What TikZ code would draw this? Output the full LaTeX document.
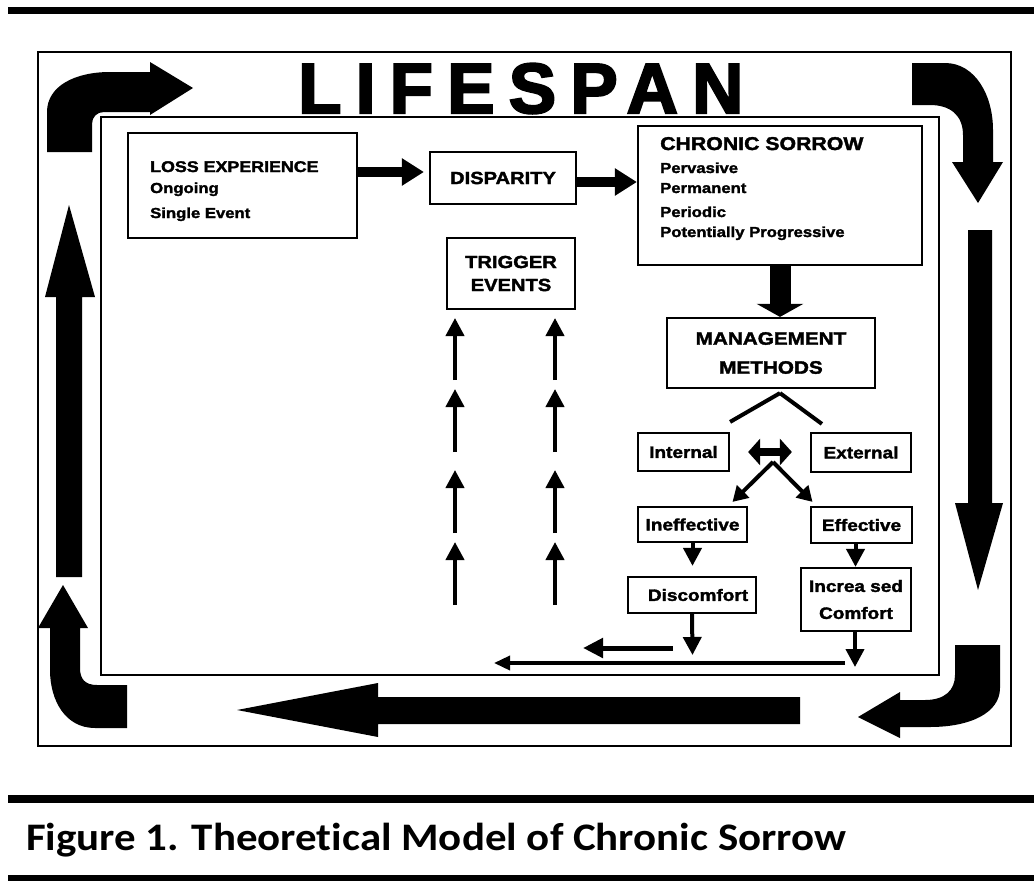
\documentclass[tikz,border=0pt]{standalone}
\usepackage{fontspec}
\setmainfont{Liberation Sans}
\newfontfamily\bx{Liberation Sans}[FakeStretch=1.15,FakeBold=2]
\newfontfamily\lsfont{Liberation Sans}[LetterSpace=20,FakeBold=3]
\newfontfamily\capfont{Carlito}[FakeStretch=1.1,Ligatures=NoCommon]
\usetikzlibrary{arrows.meta,calc}
\begin{document}
\begin{tikzpicture}[x=1pt,y=-1pt,
  frame/.style={draw, line width=2.6pt},
  rule/.style={line width=#1, line cap=butt},
  box/.style={draw, line width=2.2pt, inner sep=0pt, align=center,
    font=\bx\bfseries\fontsize{16.5}{26}\selectfont},
  txt/.style={anchor=base west, inner sep=0pt, font=\bx\bfseries\fontsize{14.5}{17}\selectfont},
  heavyarr/.style={line width=10pt, -{Triangle[width=26pt,length=22pt]}},
  thinarr/.style={line width=4pt, -{Triangle[width=18pt,length=18pt]}},
  forkarr/.style={line width=4pt, -{Triangle[width=17pt,length=15pt]}},
  dblarr/.style={line width=8pt, {Triangle[width=26pt,length=12pt]}-{Triangle[width=26pt,length=12pt]}},
  bigshape/.style={fill=black}
]
\useasboundingbox (0,0) rectangle (1034,881);

% rules
\draw[rule=7.5pt] (8,10.5) -- (1034,10.5);
\draw[rule=8pt] (8,799) -- (1034,799);
\draw[rule=7pt] (8,878.5) -- (1034,878.5);

% caption
\node[anchor=base west, inner sep=0pt, font=\capfont\bfseries\fontsize{39}{40}\selectfont] (caption) at (26,850) {Figure 1. Theoretical Model of Chronic Sorrow};

% frames
\draw[frame] (38,52) rectangle (1011,746);
\draw[frame] (101,117) rectangle (939,675);

% LIFESPAN
\node[anchor=base west, inner sep=0pt, font=\lsfont\bfseries\fontsize{71}{72}\selectfont] (lifespan) at (298,113) {LIFESPAN};

% big frame arrows
% top-left hook
\fill[bigshape] (47,152) -- (47,112) .. controls (47,86) and (75,72) .. (110,72) -- (150,72) -- (150,62) -- (193,88) -- (150,115) -- (150,112) -- (104,112) .. controls (97,112) and (92,117) .. (92,124) -- (92,152) -- cycle;
% top-right hook
\fill[bigshape] (912,63) -- (945,63) .. controls (975,63) and (993,95) .. (993,130) -- (993,162) -- (1003,162) -- (978,203) -- (952,162) -- (963,162) -- (963,135) .. controls (963,115) and (950,105) .. (930,105) -- (912,105) -- cycle;
% right vertical arrow
\fill[bigshape] (968,230) -- (992,230) -- (992,503) -- (1003,503) -- (978,590) -- (955,503) -- (968,503) -- cycle;
% bottom-right hook
\fill[bigshape] (1000,645) -- (1000,688) .. controls (1000,713) and (970,727) .. (930,727) -- (900,727) -- (900,738) -- (858,717) -- (900,692) -- (900,700) -- (925,700) .. controls (945,700) and (955,690) .. (955,675) -- (955,645) -- cycle;
% bottom horizontal arrow
\fill[bigshape] (800,697) -- (800,724) -- (378,724) -- (378,737) -- (237,710) -- (378,683) -- (378,697) -- cycle;
% bottom-left hook
\fill[bigshape] (127,728) -- (95,728) .. controls (65,728) and (50,700) .. (50,670) -- (50,628) -- (38,628) -- (63,585) -- (88,628) -- (80,628) -- (80,668) .. controls (80,679) and (85,685) .. (97,685) -- (127,685) -- cycle;
% left vertical arrow
\fill[bigshape] (82,577) -- (56,577) -- (56,297) -- (45,297) -- (69,205) -- (95,297) -- (82,297) -- cycle;

% boxes
\node[box, minimum width=229pt, minimum height=105pt] (loss) at (242.5,185.5) {};
\node[txt, font=\bx\bfseries\fontsize{15.5}{17}\selectfont] (losst) at (150,172) {LOSS EXPERIENCE};
\node[txt] (ongoing) at (150,193) {Ongoing};
\node[txt] (single) at (150,218) {Single Event};

\node[box, minimum width=146pt, minimum height=52pt, font=\bx\bfseries\fontsize{17.5}{20}\selectfont] (disp) at (503,178) {DISPARITY};

\node[box, minimum width=284pt, minimum height=139pt] (chronic) at (780,195.5) {};
\node[txt, font=\bx\bfseries\fontsize{18.5}{20}\selectfont] (chront) at (660,150) {CHRONIC SORROW};
\node[txt] (perv) at (660,173) {Pervasive};
\node[txt] (perm) at (660,193) {Permanent};
\node[txt] (peri) at (660,217) {Periodic};
\node[txt] (pot) at (660,237) {Potentially Progressive};

\node[box, minimum width=128pt, minimum height=71pt, font=\bx\bfseries\fontsize{17.5}{23}\selectfont] (trig) at (511,273.5) {TRIGGER\\EVENTS};
\node[box, minimum width=208pt, minimum height=70pt, font=\bx\bfseries\fontsize{18}{29}\selectfont] (mgmt) at (771,353) {MANAGEMENT\\METHODS};
\node[box, minimum width=91pt, minimum height=38pt] (int) at (683.5,452) {Internal};
\node[box, minimum width=100pt, minimum height=39pt] (ext) at (861,452.5) {External};
\node[box, minimum width=109pt, minimum height=35pt] (ineff) at (692.5,524.5) {Ineffective};
\node[box, minimum width=101pt, minimum height=36pt] (eff) at (861.5,525) {Effective};
\node[box, minimum width=128pt, minimum height=36pt] (disc) at (692,595) {\hspace{12pt}Discomfort};
\node[box, minimum width=110pt, minimum height=63pt, font=\bx\bfseries\fontsize{16.5}{27}\selectfont] (inc) at (856,599.5) {Increa sed\\Comfort};

% connectors
\draw[heavyarr] ([yshift=6pt]loss.east |- disp.west) -- ([yshift=6pt,xshift=-5pt]disp.west);
\draw[heavyarr] ([yshift=-4pt]disp.east) -- ([yshift=-4pt]disp.east -| chronic.west);
\draw[line width=21pt, -{Triangle[width=46pt,length=13pt]}] (chronic.south) -- (chronic.south |- mgmt.north);

\coordinate (apex) at ([xshift=9pt,yshift=-4pt]mgmt.south);
\draw[line width=4pt] (apex) -- ([yshift=10pt]int.north east);
\draw[line width=4pt] (apex) -- ([xshift=12pt,yshift=8pt]ext.north west);
\draw[dblarr, shorten <=18pt, shorten >=18pt] (int.east) -- (int.east -| ext.west);
\coordinate (fork) at (773,462);
\draw[forkarr] (fork) -- ([xshift=40pt,yshift=4pt]ineff.north);
\draw[forkarr] (fork) -- ([xshift=-49pt,yshift=4pt]eff.north);

\draw[thinarr, shorten >=10pt] (ineff.south) -- (ineff.south |- disc.north);
\draw[thinarr] ([xshift=-6pt]eff.south) -- ([xshift=-6pt]eff.south |- inc.north);
\coordinate (d1) at (692.5,655);
\draw[thinarr] (disc.south) -- (d1);
\coordinate (i1) at (855,667);
\draw[thinarr] (inc.south -| i1) -- (i1);
\coordinate (s1) at (673,648);
\coordinate (s2) at (583,648);
\draw[line width=5pt, -{Triangle[width=19pt,length=20pt]}] (s1) -- (s2);
\coordinate (l1) at (845,663);
\coordinate (l2) at (494,663);
\draw[line width=3.5pt, -{Triangle[width=14pt,length=16pt]}] (l1) -- (l2);

% trigger arrows
\foreach \xx/\nm in {455/a,555/b}{
  \coordinate (t\nm1) at (\xx,605); \coordinate (t\nm2) at (\xx,542);
  \coordinate (t\nm3) at (\xx,533); \coordinate (t\nm4) at (\xx,470);
  \coordinate (t\nm5) at (\xx,452); \coordinate (t\nm6) at (\xx,389);
  \coordinate (t\nm7) at (\xx,380); \coordinate (t\nm8) at (\xx,318);
  \draw[thinarr] (t\nm1) -- (t\nm2);
  \draw[thinarr] (t\nm3) -- (t\nm4);
  \draw[thinarr] (t\nm5) -- (t\nm6);
  \draw[thinarr] (t\nm7) -- (t\nm8);
}
\end{tikzpicture}
\end{document}
